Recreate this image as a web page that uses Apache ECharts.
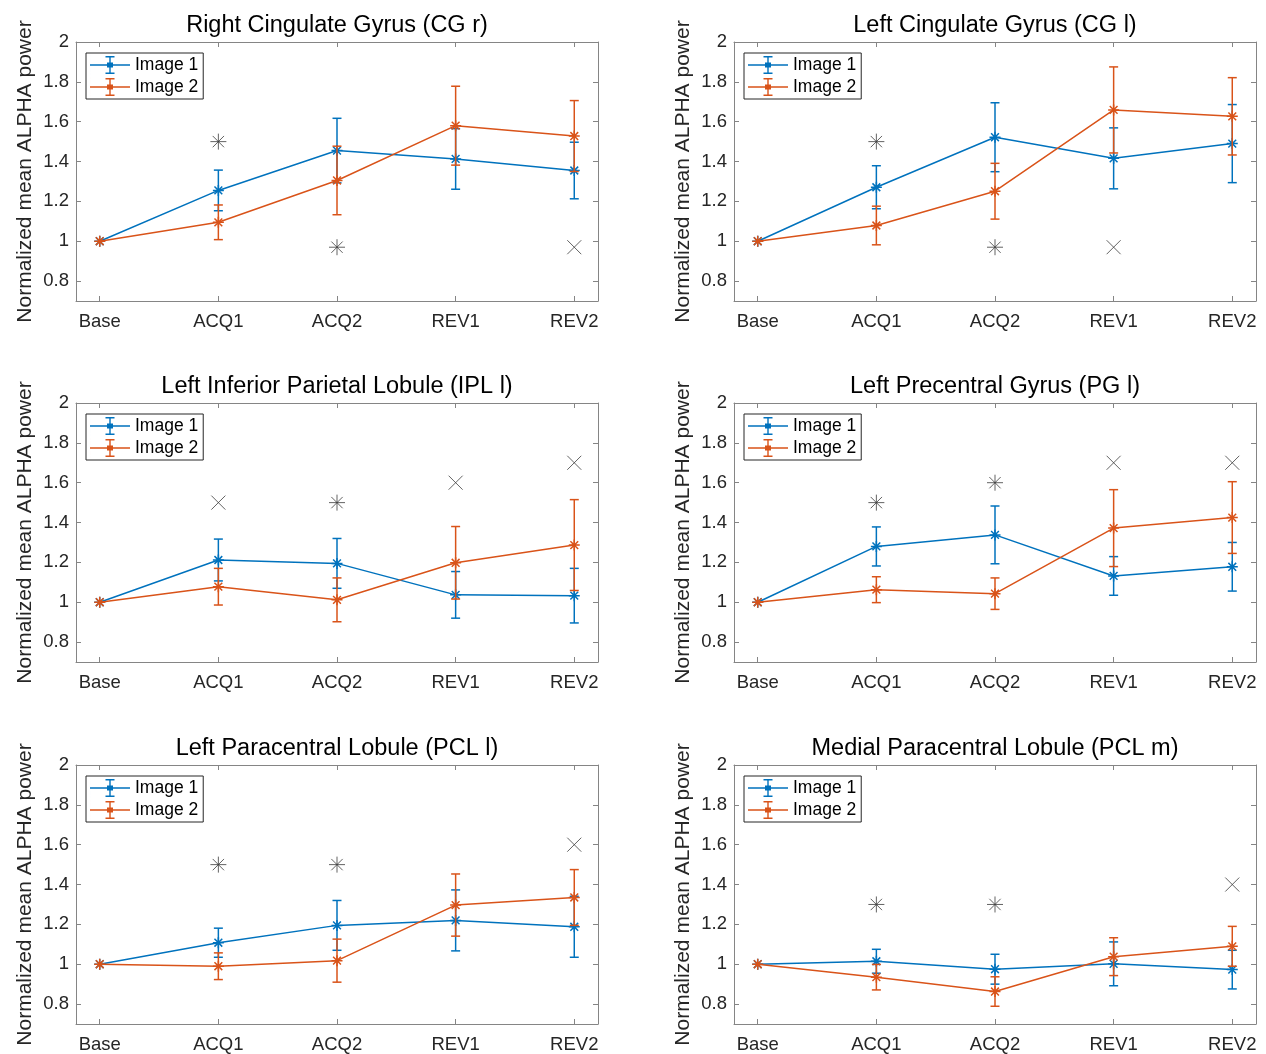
<!DOCTYPE html>
<html><head><meta charset="utf-8">
<script src="https://cdn.jsdelivr.net/npm/echarts@6/dist/echarts.min.js"></script>
<style>html,body{margin:0;padding:0;background:#fff}#c{width:1266px;height:1054px}</style>
</head><body><div id="c"></div>
<script>
// ---------- data ----------
const categories = ['Base', 'ACQ1', 'ACQ2', 'REV1', 'REV2'];
const yTicks = [0.8, 1, 1.2, 1.4, 1.6, 1.8, 2];
const seriesNames = ['Image 1', 'Image 2'];
const yAxisTitle = 'Normalized mean ALPHA power';
const titles = [
  'Right Cingulate Gyrus (CG r)', 'Left Cingulate Gyrus (CG l)',
  'Left Inferior Parietal Lobule (IPL l)', 'Left Precentral Gyrus (PG l)',
  'Left Paracentral Lobule (PCL l)', 'Medial Paracentral Lobule (PCL m)'
];

// Right Cingulate Gyrus
const cgrImg1 = [1, 1.255, 1.455, 1.413, 1.355];
const cgrErr1 = [0, 0.102, 0.162, 0.152, 0.142];
const cgrImg2 = [1, 1.095, 1.305, 1.580, 1.528];
const cgrErr2 = [0, 0.087, 0.172, 0.198, 0.178];
const cgrStar = [['ACQ1', 1.5], ['ACQ2', 0.97]];
const cgrCross = [['REV2', 0.97]];

// Left Cingulate Gyrus
const cglImg1 = [1, 1.271, 1.522, 1.416, 1.490];
const cglErr1 = [0, 0.108, 0.173, 0.153, 0.196];
const cglImg2 = [1, 1.079, 1.251, 1.659, 1.627];
const cglErr2 = [0, 0.097, 0.140, 0.216, 0.194];
const cglStar = [['ACQ1', 1.5], ['ACQ2', 0.97]];
const cglCross = [['REV1', 0.97]];

// Left Inferior Parietal Lobule
const iplImg1 = [1, 1.212, 1.195, 1.037, 1.033];
const iplErr1 = [0, 0.105, 0.125, 0.117, 0.137];
const iplImg2 = [1, 1.078, 1.012, 1.198, 1.287];
const iplErr2 = [0, 0.092, 0.110, 0.182, 0.228];
const iplStar = [['ACQ2', 1.5]];
const iplCross = [['ACQ1', 1.5], ['REV1', 1.6], ['REV2', 1.7]];

// Left Precentral Gyrus
const pglImg1 = [1, 1.280, 1.338, 1.132, 1.178];
const pglErr1 = [0, 0.098, 0.145, 0.097, 0.122];
const pglImg2 = [1, 1.063, 1.043, 1.372, 1.425];
const pglErr2 = [0, 0.065, 0.079, 0.193, 0.180];
const pglStar = [['ACQ1', 1.5], ['ACQ2', 1.6]];
const pglCross = [['REV1', 1.7], ['REV2', 1.7]];

// Left Paracentral Lobule
const pcllImg1 = [1, 1.108, 1.195, 1.220, 1.188];
const pcllErr1 = [0, 0.073, 0.125, 0.153, 0.153];
const pcllImg2 = [1, 0.990, 1.018, 1.297, 1.335];
const pcllErr2 = [0, 0.067, 0.108, 0.156, 0.140];
const pcllStar = [['ACQ1', 1.5], ['ACQ2', 1.5]];
const pcllCross = [['REV2', 1.6]];

// Medial Paracentral Lobule
const pclmImg1 = [1, 1.015, 0.975, 1.002, 0.973];
const pclmErr1 = [0, 0.060, 0.075, 0.110, 0.097];
const pclmImg2 = [1, 0.935, 0.863, 1.038, 1.090];
const pclmErr2 = [0, 0.064, 0.074, 0.095, 0.100];
const pclmStar = [['ACQ1', 1.3], ['ACQ2', 1.3]];
const pclmCross = [['REV2', 1.4]];

// ---------- build ----------
const panels = [
  {img1: cgrImg1, err1: cgrErr1, img2: cgrImg2, err2: cgrErr2, star: cgrStar, cross: cgrCross},
  {img1: cglImg1, err1: cglErr1, img2: cglImg2, err2: cglErr2, star: cglStar, cross: cglCross},
  {img1: iplImg1, err1: iplErr1, img2: iplImg2, err2: iplErr2, star: iplStar, cross: iplCross},
  {img1: pglImg1, err1: pglErr1, img2: pglImg2, err2: pglErr2, star: pglStar, cross: pglCross},
  {img1: pcllImg1, err1: pcllErr1, img2: pcllImg2, err2: pcllErr2, star: pcllStar, cross: pcllCross},
  {img1: pclmImg1, err1: pclmErr1, img2: pclmImg2, err2: pclmErr2, star: pclmStar, cross: pclmCross}
];

const FONT = '"Liberation Sans", Arial, Helvetica, sans-serif';
const COLORS = ['#0072BD', '#D95319'];
const SIG = '#3c3c3c';
const AXIS_COLOR = '#858585';
const TEXT_COLOR = '#262626';
const colLeft = [76, 734];
const rowTop = [42, 403, 765];
const GW = 522, GH = 259;
const xTickVals = categories.map((c, i) => i + 1);

const STAR = 'path://M5,0L5,10M0,5L10,5M1.46,1.46L8.54,8.54M1.46,8.54L8.54,1.46';
const CROSS = 'path://M0,0L10,10M0,10L10,0';
const LEG_ICON = 'path://M0,9.3H40V10.7H0Z M19.3,1H20.7V19H19.3Z M15.5,1H24.5V2.4H15.5Z M15.5,17.6H24.5V19H15.5Z M17,7.5H23V12.5H17Z M0,0H0.01V20H0Z';

const grids = [], xAxes = [], yAxes = [], series = [], title = [], legend = [];

panels.forEach((p, i) => {
  const left = colLeft[i % 2], top = rowTop[Math.floor(i / 2)];
  grids.push({left: left, top: top, width: GW, height: GH, containLabel: false});
  const lineStyle = {color: AXIS_COLOR, width: 1};
  xAxes.push({
    type: 'value', gridIndex: i, min: 0.8, max: 5.2, position: 'bottom',
    splitLine: {show: false},
    axisLine: {show: true, onZero: false, lineStyle},
    axisTick: {show: true, inside: true, length: 5, customValues: xTickVals, lineStyle},
    axisLabel: {show: true, customValues: xTickVals, margin: 11,
      formatter: v => categories[Math.round(v) - 1] || '',
      fontSize: 18.5, color: TEXT_COLOR, fontFamily: FONT}
  });
  xAxes.push({
    type: 'value', gridIndex: i, min: 0.8, max: 5.2, position: 'top',
    splitLine: {show: false},
    axisLine: {show: true, onZero: false, lineStyle},
    axisTick: {show: true, inside: true, length: 5, customValues: xTickVals, lineStyle},
    axisLabel: {show: false}
  });
  yAxes.push({
    type: 'value', gridIndex: i, min: 0.7, max: 2, position: 'left',
    splitLine: {show: false},
    axisLine: {show: true, onZero: false, lineStyle},
    axisTick: {show: true, inside: true, length: 5, customValues: yTicks, lineStyle},
    axisLabel: {show: true, customValues: yTicks, margin: 7,
      formatter: v => String(+(+v).toFixed(1)),
      fontSize: 18.5, color: TEXT_COLOR, fontFamily: FONT},
    name: yAxisTitle, nameLocation: 'middle', nameRotate: 90, nameGap: 40,
    nameTextStyle: {fontSize: 21, color: TEXT_COLOR, fontFamily: FONT}
  });
  yAxes.push({
    type: 'value', gridIndex: i, min: 0.7, max: 2, position: 'right',
    splitLine: {show: false},
    axisLine: {show: true, onZero: false, lineStyle},
    axisTick: {show: true, inside: true, length: 5, customValues: yTicks, lineStyle},
    axisLabel: {show: false}
  });
  const xi = i * 2, yi = i * 2;

  title.push({
    text: titles[i], left: left + GW / 2, top: top - 28, textAlign: 'center', padding: 0,
    textStyle: {fontSize: 23.5, fontWeight: 'normal', color: '#000', fontFamily: FONT}
  });
  legend.push({
    show: true, orient: 'vertical', left: left + 10, top: top + 11,
    data: seriesNames, icon: LEG_ICON, itemWidth: 40, itemHeight: 20, itemGap: 2,
    selectedMode: false, borderColor: '#262626', borderWidth: 1, borderRadius: 0,
    padding: [2, 5, 2, 4], backgroundColor: '#fff',
    itemStyle: {borderWidth: 0},
    textStyle: {fontSize: 17.5, color: '#000', fontFamily: FONT}
  });

  [[p.img1, p.err1], [p.img2, p.err2]].forEach(([vals, errs], k) => {
    const c = COLORS[k];
    series.push({
      type: 'custom', name: seriesNames[k] + ' err', xAxisIndex: xi, yAxisIndex: yi,
      z: 2 + k * 2, silent: true,
      encode: {x: 0, y: [1, 2]},
      data: vals.map((v, j) => [j + 1, v - errs[j], v + errs[j]]).filter((d, j) => errs[j] > 0),
      renderItem: (params, api) => {
        const x = api.value(0);
        const lo = api.coord([x, api.value(1)]);
        const hi = api.coord([x, api.value(2)]);
        const hw = 4.5;
        const st = {stroke: c, lineWidth: 1.5};
        return {type: 'group', children: [
          {type: 'line', shape: {x1: lo[0], y1: lo[1], x2: hi[0], y2: hi[1]}, style: st},
          {type: 'line', shape: {x1: lo[0] - hw, y1: lo[1], x2: lo[0] + hw, y2: lo[1]}, style: st},
          {type: 'line', shape: {x1: hi[0] - hw, y1: hi[1], x2: hi[0] + hw, y2: hi[1]}, style: st}
        ]};
      }
    });
    series.push({
      type: 'line', name: seriesNames[k], xAxisIndex: xi, yAxisIndex: yi,
      z: 3 + k * 2, data: vals.map((v, j) => [j + 1, v]),
      symbol: STAR, symbolSize: 11, showSymbol: true,
      lineStyle: {color: c, width: 1.5},
      itemStyle: {color: c, borderColor: c, borderWidth: 1.5},
      emphasis: {disabled: true}
    });
  });
  series.push({
    type: 'scatter', name: 'sig-star-' + i, xAxisIndex: xi, yAxisIndex: yi, z: 8,
    data: p.star.map(d => [categories.indexOf(d[0]) + 1, d[1]]),
    symbol: STAR, symbolSize: 16,
    itemStyle: {color: 'transparent', borderColor: SIG, borderWidth: 1},
    emphasis: {disabled: true}
  });
  series.push({
    type: 'scatter', name: 'sig-x-' + i, xAxisIndex: xi, yAxisIndex: yi, z: 8,
    data: p.cross.map(d => [categories.indexOf(d[0]) + 1, d[1]]),
    symbol: CROSS, symbolSize: 14,
    itemStyle: {color: 'transparent', borderColor: SIG, borderWidth: 1},
    emphasis: {disabled: true}
  });
});

const chart = echarts.init(document.getElementById('c'), null, {renderer: 'canvas'});
chart.setOption({
  animation: false,
  backgroundColor: '#fff',
  title, legend, grid: grids, xAxis: xAxes, yAxis: yAxes, series
});
</script></body></html>
